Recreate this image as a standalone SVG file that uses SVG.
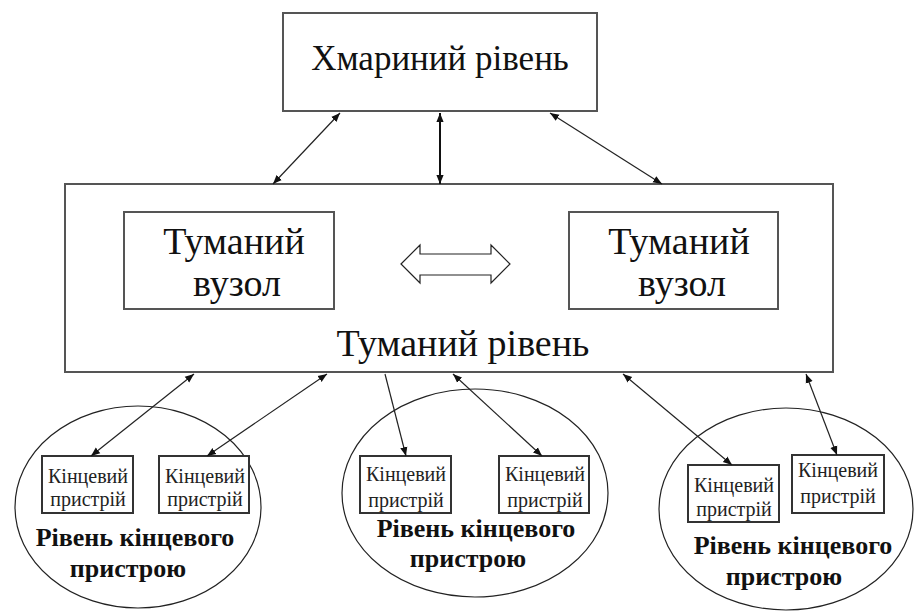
<svg xmlns="http://www.w3.org/2000/svg" width="915" height="611" viewBox="0 0 915 611">
  <style>
    .box { fill: #fff; stroke: #555; stroke-width: 2; }
    .ell { fill: none; stroke: #222; stroke-width: 1.2; }
    .dev { fill: #fff; stroke: #333; stroke-width: 2; }
    .link { stroke: #222; stroke-width: 1.2; fill: none; }
    .thick { stroke: #111; stroke-width: 2; fill: none; }
  </style>
  <defs>
    <marker id="ah" viewBox="0 0 10 10" refX="10" refY="5" markerWidth="9" markerHeight="9" markerUnits="userSpaceOnUse" orient="auto-start-reverse">
      <path d="M0,1 L10,5 L0,9 Z" fill="#111"/>
    </marker>
  </defs>

  <!-- cloud tier -->
  <g id="cloud">
    <rect class="box" x="283" y="13" width="314" height="98"/>
    <text x="440" y="70" font-family="Liberation Serif" font-size="35" text-anchor="middle" fill="#111">Хмариний рівень</text>
  </g>

  <!-- fog tier with two fog nodes -->
  <g id="fog">
    <rect class="box" x="65" y="184" width="768" height="188"/>
    <text x="463" y="356" font-family="Liberation Serif" font-size="38" text-anchor="middle" fill="#111">Туманий рівень</text>
  </g>
  <g id="fog-node-1">
    <rect class="box" x="124" y="212" width="210" height="97"/>
    <text x="234" y="254" font-family="Liberation Serif" font-size="38" text-anchor="middle" fill="#111">Туманий</text>
    <text x="237" y="296" font-family="Liberation Serif" font-size="38" text-anchor="middle" fill="#111">вузол</text>
  </g>
  <g id="fog-node-2">
    <rect class="box" x="569" y="212" width="209" height="97"/>
    <text x="679" y="254" font-family="Liberation Serif" font-size="38" text-anchor="middle" fill="#111">Туманий</text>
    <text x="682" y="296" font-family="Liberation Serif" font-size="38" text-anchor="middle" fill="#111">вузол</text>
  </g>

  <!-- end-device tiers -->
  <g id="edge-1">
    <ellipse class="ell" cx="138" cy="507" rx="123" ry="101"/>
    <text x="135" y="546" font-family="Liberation Serif" font-size="26" font-weight="bold" text-anchor="middle" fill="#111">Рівень кінцевого</text>
    <text x="128" y="577" font-family="Liberation Serif" font-size="26" font-weight="bold" text-anchor="middle" fill="#111">пристрою</text>
  </g>
  <g id="edge-2">
    <ellipse class="ell" cx="475" cy="493" rx="133" ry="104"/>
    <text x="476" y="537" font-family="Liberation Serif" font-size="26" font-weight="bold" text-anchor="middle" fill="#111">Рівень кінцевого</text>
    <text x="468" y="567" font-family="Liberation Serif" font-size="26" font-weight="bold" text-anchor="middle" fill="#111">пристрою</text>
  </g>
  <g id="edge-3">
    <ellipse class="ell" cx="786" cy="509" rx="127" ry="101"/>
    <text x="793" y="554" font-family="Liberation Serif" font-size="26" font-weight="bold" text-anchor="middle" fill="#111">Рівень кінцевого</text>
    <text x="784" y="585" font-family="Liberation Serif" font-size="26" font-weight="bold" text-anchor="middle" fill="#111">пристрою</text>
  </g>

  <g id="device-1">
    <rect class="dev" x="42" y="456" width="91" height="57"/>
    <text x="88" y="483" font-family="Liberation Serif" font-size="20" text-anchor="middle" fill="#222">Кінцевий</text>
    <text x="88" y="506" font-family="Liberation Serif" font-size="20" text-anchor="middle" fill="#222">пристрій</text>
  </g>
  <g id="device-2">
    <rect class="dev" x="159" y="456" width="90" height="57"/>
    <text x="205" y="483" font-family="Liberation Serif" font-size="20" text-anchor="middle" fill="#222">Кінцевий</text>
    <text x="205" y="506" font-family="Liberation Serif" font-size="20" text-anchor="middle" fill="#222">пристрій</text>
  </g>
  <g id="device-3">
    <rect class="dev" x="360" y="456" width="91" height="57"/>
    <text x="406" y="481" font-family="Liberation Serif" font-size="20" text-anchor="middle" fill="#222">Кінцевий</text>
    <text x="406" y="507" font-family="Liberation Serif" font-size="20" text-anchor="middle" fill="#222">пристрій</text>
  </g>
  <g id="device-4">
    <rect class="dev" x="499" y="456" width="90" height="57"/>
    <text x="545" y="481" font-family="Liberation Serif" font-size="20" text-anchor="middle" fill="#222">Кінцевий</text>
    <text x="545" y="507" font-family="Liberation Serif" font-size="20" text-anchor="middle" fill="#222">пристрій</text>
  </g>
  <g id="device-5">
    <rect class="dev" x="688" y="465" width="91" height="57"/>
    <text x="734" y="492" font-family="Liberation Serif" font-size="20" text-anchor="middle" fill="#222">Кінцевий</text>
    <text x="734" y="516" font-family="Liberation Serif" font-size="20" text-anchor="middle" fill="#222">пристрій</text>
  </g>
  <g id="device-6">
    <rect class="dev" x="792" y="455" width="92" height="58"/>
    <text x="838" y="477" font-family="Liberation Serif" font-size="20" text-anchor="middle" fill="#222">Кінцевий</text>
    <text x="838" y="503" font-family="Liberation Serif" font-size="20" text-anchor="middle" fill="#222">пристрій</text>
  </g>

  <!-- connectors -->
  <g id="links">
    <line class="link" x1="340" y1="113" x2="273" y2="184" marker-start="url(#ah)" marker-end="url(#ah)"/>
    <line class="thick" x1="440" y1="113" x2="440" y2="184" marker-start="url(#ah)" marker-end="url(#ah)"/>
    <line class="link" x1="550" y1="113" x2="662" y2="184" marker-start="url(#ah)" marker-end="url(#ah)"/>

    <path class="link" d="M401,264 L420,245 L420,254 L491,254 L491,245 L510,264 L491,283 L491,275 L420,275 L420,283 Z" stroke-width="1.5"/>

    <line class="link" x1="194" y1="374" x2="91" y2="456" marker-start="url(#ah)" marker-end="url(#ah)"/>
    <line class="link" x1="327" y1="374" x2="207" y2="456" marker-start="url(#ah)" marker-end="url(#ah)"/>
    <line class="link" x1="385" y1="374" x2="406" y2="456" marker-end="url(#ah)"/>
    <line class="link" x1="453" y1="374" x2="542" y2="456" marker-start="url(#ah)" marker-end="url(#ah)"/>
    <line class="link" x1="623" y1="374" x2="732" y2="465" marker-start="url(#ah)" marker-end="url(#ah)"/>
    <line class="link" x1="806" y1="374" x2="837" y2="455" marker-start="url(#ah)" marker-end="url(#ah)"/>
  </g>
</svg>
